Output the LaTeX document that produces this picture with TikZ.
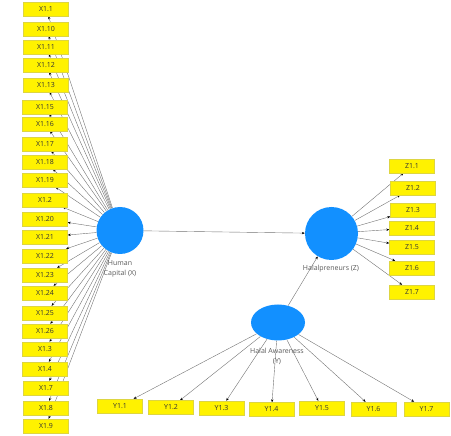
\documentclass[tikz,border=0pt]{standalone}
\usepackage{fontspec}
\setmainfont{Open Sans}
\usepackage{tikz}
\usetikzlibrary{arrows.meta,backgrounds,shapes.geometric}
\definecolor{lvblue}{RGB}{18,144,255}
\tikzset{
  arr/.style={-{Stealth[length=3pt,width=2.4pt,black]}, draw=black!55, line width=0.4pt},
  ind/.style={draw=yellow!70!gray, fill=yellow, text=black!80,
              font=\fontsize{7}{8}\selectfont, inner sep=0pt,
              minimum width=45pt, minimum height=14pt},
  lv/.style={fill=lvblue, inner sep=0pt},
  lvlab/.style={text=black!65, font=\fontsize{7}{10}\selectfont, align=center},
}

\begin{document}
\begin{tikzpicture}[x=1pt, y=-1pt]
\useasboundingbox (0,0) rectangle (451,436);
% latent variables
\node[lv, circle, minimum size=47pt] (hc) at (120,230.5) {};
\node[lv, circle, minimum size=53pt] (hp) at (331.5,233.5) {};
\node[lv, ellipse, minimum width=54pt, minimum height=36pt] (ha) at (278,322.5) {};
\node[lvlab] (hclab) at (120,269) {Human\\Capital (X)};
\node[lvlab] (hplab) at (331,269) {Halalpreneurs (Z)};
\node[lvlab] (halab) at (277,356) {Halal Awareness\\(Y)};
% indicators X
\node[ind] (x11)  at (46,9)   {X1.1};
\node[ind] (x110) at (46,29)  {X1.10};
\node[ind] (x111) at (46,47)  {X1.11};
\node[ind] (x112) at (46,65)  {X1.12};
\node[ind] (x113) at (46,85)  {X1.13};
\node[ind] (x115) at (45,107) {X1.15};
\node[ind] (x116) at (45,124) {X1.16};
\node[ind] (x117) at (45,144) {X1.17};
\node[ind] (x118) at (45,162) {X1.18};
\node[ind] (x119) at (45,180) {X1.19};
\node[ind] (x12)  at (45,200) {X1.2};
\node[ind] (x120) at (45,219) {X1.20};
\node[ind] (x121) at (45,237) {X1.21};
\node[ind] (x122) at (45,256) {X1.22};
\node[ind] (x123) at (45,275) {X1.23};
\node[ind] (x124) at (45,293) {X1.24};
\node[ind] (x125) at (45,313) {X1.25};
\node[ind] (x126) at (45,331) {X1.26};
\node[ind] (x13)  at (45,349) {X1.3};
\node[ind] (x14)  at (45,369) {X1.4};
\node[ind] (x17)  at (46,388) {X1.7};
\node[ind] (x18)  at (46,408) {X1.8};
\node[ind] (x19)  at (46,426) {X1.9};
% indicators Z
\node[ind] (z11) at (412,166) {Z1.1};
\node[ind] (z12) at (413,188) {Z1.2};
\node[ind] (z13) at (413,210) {Z1.3};
\node[ind] (z14) at (412,228) {Z1.4};
\node[ind] (z15) at (412,247) {Z1.5};
\node[ind] (z16) at (412,268) {Z1.6};
\node[ind] (z17) at (412,292) {Z1.7};
% indicators Y
\node[ind] (y11) at (120,406)   {Y1.1};
\node[ind] (y12) at (171,407.5) {Y1.2};
\node[ind] (y13) at (221.5,408) {Y1.3};
\node[ind] (y14) at (271.5,409.5) {Y1.4};
\node[ind] (y15) at (322,408)   {Y1.5};
\node[ind] (y16) at (373.5,409) {Y1.6};
\node[ind] (y17) at (426.5,409) {Y1.7};
\begin{pgfonlayer}{background}
\draw[arr] (hc) -- (hp);
\draw[arr] (ha) -- (hp);
\draw[arr] (hc) -- (x11);
\draw[arr] (hc) -- (x110);
\draw[arr] (hc) -- (x111);
\draw[arr] (hc) -- (x112);
\draw[arr] (hc) -- (x113);
\draw[arr] (hc) -- (x115);
\draw[arr] (hc) -- (x116);
\draw[arr] (hc) -- (x117);
\draw[arr] (hc) -- (x118);
\draw[arr] (hc) -- (x119);
\draw[arr] (hc) -- (x12);
\draw[arr] (hc) -- (x120);
\draw[arr] (hc) -- (x121);
\draw[arr] (hc) -- (x122);
\draw[arr] (hc) -- (x123);
\draw[arr] (hc) -- (x124);
\draw[arr] (hc) -- (x125);
\draw[arr] (hc) -- (x126);
\draw[arr] (hc) -- (x13);
\draw[arr] (hc) -- (x14);
\draw[arr] (hc) -- (x17);
\draw[arr] (hc) -- (x18);
\draw[arr] (hc) -- (x19);
\draw[arr] (hp) -- (z11);
\draw[arr] (hp) -- (z12);
\draw[arr] (hp) -- (z13);
\draw[arr] (hp) -- (z14);
\draw[arr] (hp) -- (z15);
\draw[arr] (hp) -- (z16);
\draw[arr] (hp) -- (z17);
\draw[arr] (ha) -- (y11);
\draw[arr] (ha) -- (y12);
\draw[arr] (ha) -- (y13);
\draw[arr] (ha) -- (y14);
\draw[arr] (ha) -- (y15);
\draw[arr] (ha) -- (y16);
\draw[arr] (ha) -- (y17);
\end{pgfonlayer}
\end{tikzpicture}
\end{document}
